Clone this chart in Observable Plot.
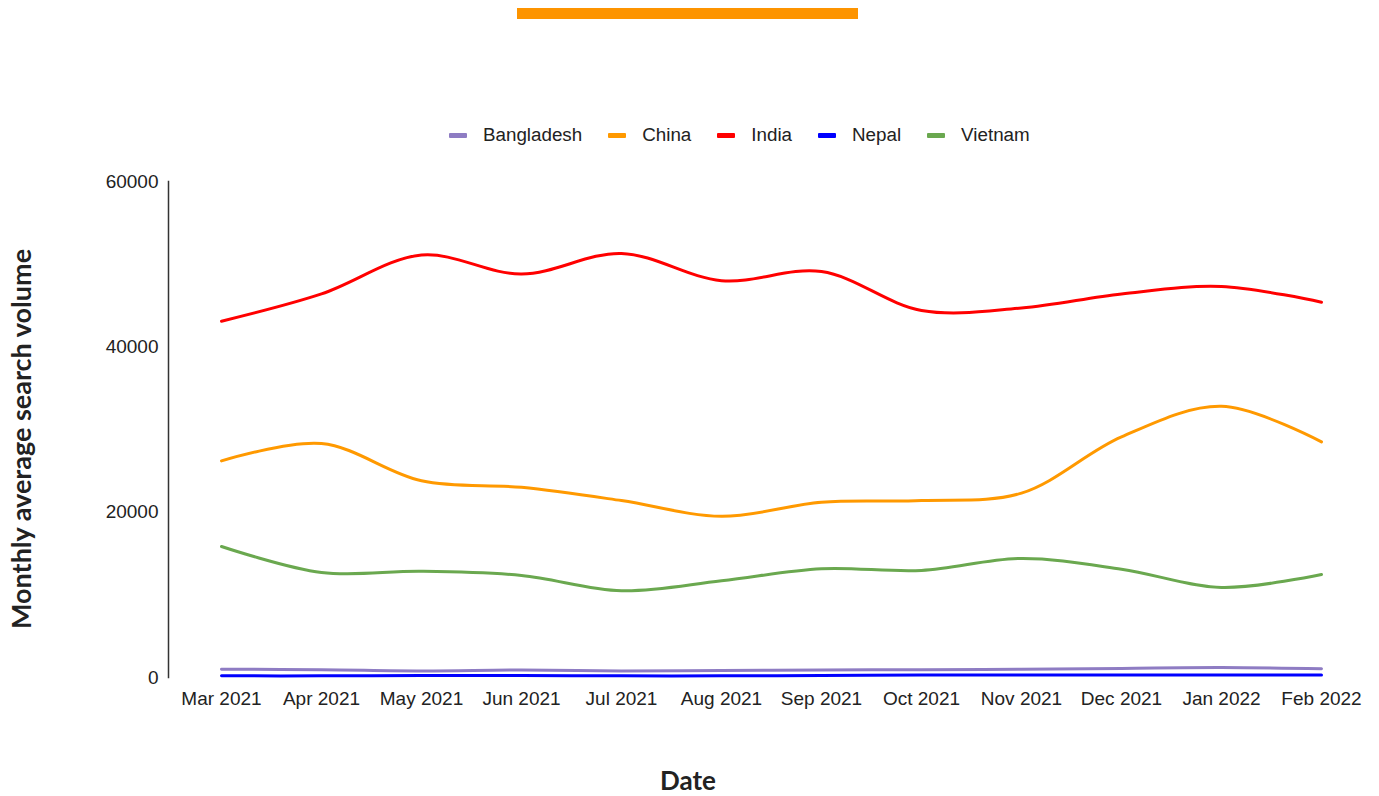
<!DOCTYPE html>
<html>
<head>
<meta charset="utf-8">
<script src="https://cdn.jsdelivr.net/npm/d3@7"></script>
<script src="https://cdn.jsdelivr.net/npm/@observablehq/plot@0.6"></script>
<style>
  html, body { margin: 0; padding: 0; background: #fff; }
  #page { position: relative; width: 1379px; height: 796px; overflow: hidden; font-family: "Liberation Sans", Arial, sans-serif; }
  #topbar { position: absolute; left: 517px; top: 8px; width: 341px; height: 11px; background: #fd9400; }
  #legend { position: absolute; left: 449px; top: 124px; height: 22px; display: flex; align-items: center; font-size: 18.8px; color: #222; white-space: nowrap; }
  #legend .item { display: flex; align-items: center; margin-right: 26px; }
  #legend .sw { width: 18px; height: 5px; border-radius: 1px; margin-right: 16px; }
  #chart { position: absolute; left: 0; top: 160px; }
  .title { position: absolute; font-family: Lato, sans-serif; font-weight: 700; color: #222; white-space: nowrap; }
  #xtitle { left: 0; width: 1379px; top: 764px; font-size: 26px; }
  #xtitle span { position: absolute; left: 688px; transform: translateX(-50%); }
  #ytitle { left: 20px; top: 439px; font-size: 27px; transform: translate(-50%, -50%) rotate(-90deg); }
</style>
</head>
<body>
<div id="page">
  <div id="topbar"></div>
  <div id="legend"></div>
  <div id="chart"></div>
  <div class="title" id="ytitle">Monthly average search volume</div>
  <div class="title" id="xtitle"><span>Date</span></div>
</div>
<script>
// Months on the horizontal axis
const months = ["Mar 2021", "Apr 2021", "May 2021", "Jun 2021", "Jul 2021", "Aug 2021",
                "Sep 2021", "Oct 2021", "Nov 2021", "Dec 2021", "Jan 2022", "Feb 2022"];

// Countries and their line colours
const countries = ["Bangladesh", "China", "India", "Nepal", "Vietnam"];
const colors = ["#8e7cc3", "#ff9900", "#ff0000", "#0000ff", "#6aa84f"];

// Monthly average search volume per country
const bangladesh = [1000, 950, 800, 900, 800, 850, 900, 950, 1000, 1100, 1200, 1050];
const china      = [26200, 28300, 23800, 23000, 21400, 19500, 21200, 21400, 22300, 29100, 32800, 28500];
const india      = [43100, 46400, 51100, 48800, 51300, 48000, 49100, 44400, 44700, 46400, 47300, 45400];
const nepal      = [200, 200, 250, 250, 200, 200, 250, 300, 300, 300, 300, 300];
const vietnam    = [15850, 12700, 12850, 12350, 10500, 11700, 13150, 12950, 14400, 13100, 10900, 12450];

// Y axis ticks
const yTicks = [0, 20000, 40000, 60000];

const series = [bangladesh, china, india, nepal, vietnam];
const rows = countries.flatMap((c, i) =>
  series[i].map((v, j) => ({country: c, month: months[j], value: v}))
);

// Legend
const legend = document.getElementById("legend");
countries.forEach((c, i) => {
  const item = document.createElement("div");
  item.className = "item";
  const sw = document.createElement("div");
  sw.className = "sw";
  sw.style.background = colors[i];
  const label = document.createElement("span");
  label.textContent = c;
  item.append(sw, label);
  legend.append(item);
});

const chart = Plot.plot({
  width: 1379,
  height: 560,
  marginTop: 21,
  marginBottom: 43,
  marginLeft: 168,
  marginRight: 57,
  style: {fontFamily: "'Liberation Sans', Arial, sans-serif", fontSize: "19px", color: "#222", background: "transparent"},
  x: {type: "point", domain: months, padding: 0, insetLeft: 51, label: null, tickSize: 0, tickPadding: 14},
  y: {domain: [0, 60000], ticks: yTicks, tickFormat: d3.format("d"), label: null, tickSize: 0, tickPadding: 10},
  color: {domain: countries, range: colors},
  marks: [
    Plot.frame({anchor: "left", stroke: "#333", strokeWidth: 1.5}),
    Plot.line(rows, {
      x: "month", y: "value", z: "country", stroke: "country",
      strokeWidth: 3, curve: "catmull-rom"
    })
  ]
});
document.getElementById("chart").append(chart);
</script>
</body>
</html>
